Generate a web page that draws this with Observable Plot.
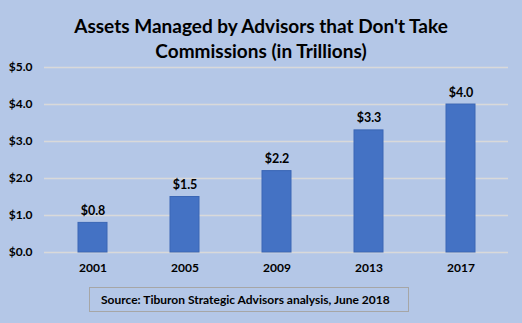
<!DOCTYPE html>
<html><head><meta charset="utf-8">
<script src="https://cdn.jsdelivr.net/npm/d3@7"></script>
<script src="https://cdn.jsdelivr.net/npm/@observablehq/plot@0.6"></script>
<style>
html,body{margin:0;padding:0;}
body{width:522px;height:323px;background:#b4c7e7;overflow:hidden;font-family:Lato,"Open Sans",sans-serif;}
#title{box-sizing:border-box;height:57px;padding-top:13px;text-align:center;font-weight:700;font-size:19px;line-height:25px;color:#000;}
#chart{height:222px;}
#cap{margin-left:89px;margin-top:8px;width:320px;height:25px;box-sizing:border-box;border:1px solid #a6a6a6;font-weight:700;font-size:12px;line-height:23px;padding-left:11px;color:#000;}
</style></head><body>
<div id="title">Assets Managed by Advisors that Don't Take<br>Commissions (in Trillions)</div>
<div id="chart"></div>
<div id="cap">Source: Tiburon Strategic Advisors analysis, June 2018</div>
<script>
const years = ["2001","2005","2009","2013","2017"];
const assets = [0.8, 1.5, 2.2, 3.3, 4.0];
const yTicks = [0, 1, 2, 3, 4, 5];
const data = years.map((y,i)=>({year:y, value:assets[i]}));
const fmt = v => "$" + v.toFixed(1);
const plot = Plot.plot({
  width: 522, height: 222,
  marginTop: 10, marginBottom: 27, marginLeft: 44, marginRight: 14,
  style: {background: "transparent", fontFamily: "Lato, 'Open Sans', sans-serif", fontWeight: 700, fontSize: "12px", color: "#000", overflow: "visible"},
  x: {domain: years, paddingInner: 0.6875, paddingOuter: 0.34375, label: null},
  y: {domain: [0, 5], label: null},
  marks: [
    Plot.ruleY(yTicks, {stroke: "#d9d9d9", strokeWidth: 1.5}),
    Plot.barY(data, {x: "year", y: "value", fill: "#4472c4", stroke: "#3a66b5", strokeWidth: 1, inset: 0}),
    Plot.text(data, {x: "year", y: "value", text: d => fmt(d.value), dy: -12, fill: "#000", fontWeight: 700, fontSize: 12.5}),
    Plot.axisY({ticks: yTicks, tickFormat: fmt, tickSize: 0, tickPadding: 12, label: null, fontWeight: 700}),
    Plot.axisX({tickSize: 0, tickPadding: 11, label: null, fontWeight: 700})
  ]
});
document.getElementById("chart").appendChild(plot);
</script>
</body></html>
